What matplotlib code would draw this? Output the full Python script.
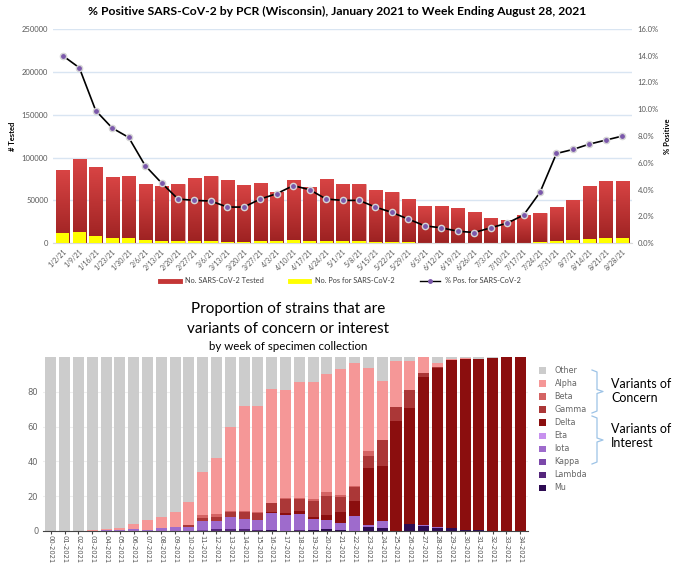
import numpy as np
import matplotlib
matplotlib.use('Agg')
import matplotlib.pyplot as plt
from matplotlib.lines import Line2D
from matplotlib.patches import Patch
from matplotlib.colors import LinearSegmentedColormap
from matplotlib.ticker import FuncFormatter

# ---------------- DATA: top chart (weekly PCR testing) ----------------
week_end = ['1/2/21', '1/9/21', '1/16/21', '1/23/21', '1/30/21', '2/6/21', '2/13/21',
            '2/20/21', '2/27/21', '3/6/21', '3/13/21', '3/20/21', '3/27/21', '4/3/21',
            '4/10/21', '4/17/21', '4/24/21', '5/1/21', '5/8/21', '5/15/21', '5/22/21',
            '5/29/21', '6/5/21', '6/12/21', '6/19/21', '6/26/21', '7/3/21', '7/10/21',
            '7/17/21', '7/24/21', '7/31/21', '8/7/21', '8/14/21', '8/21/21', '8/28/21']
tested = [85000, 98700, 88900, 76800, 78000, 68600, 66700, 69400, 75700, 78800,
          73700, 67900, 69800, 59700, 73300, 65900, 74900, 69400, 69000, 61600,
          59700, 51900, 42900, 43300, 41300, 37000, 29600, 26900, 33500, 35100,
          42100, 50700, 66700, 72900, 72500]
positives = [11900, 12900, 8800, 6600, 6200, 4000, 3000, 2300, 2400, 2500,
             2000, 1800, 2300, 2200, 3200, 2600, 2500, 2200, 2200, 1700,
             1400, 900, 560, 500, 370, 300, 340, 400, 700, 1330,
             2800, 3500, 4900, 5600, 5800]
pct_pos = [14.0, 13.1, 9.9, 8.6, 7.9, 5.8, 4.5, 3.3, 3.2, 3.15,
           2.7, 2.7, 3.3, 3.7, 4.3, 4.0, 3.3, 3.2, 3.2, 2.7,
           2.3, 1.8, 1.3, 1.15, 0.9, 0.8, 1.15, 1.5, 2.1, 3.8,
           6.7, 7.0, 7.4, 7.7, 8.0]

# ---------------- DATA: bottom chart (variant proportions, %) ----------------
weeks = ['%02d-2021' % k for k in range(35)]
other = [100, 99.9, 99.8, 99.4, 98.9, 98.1, 95.8, 93.7, 92.0, 89.3, 83.1, 66.3,
         58.0, 40.0, 28.0, 28.0, 18.4, 19.2, 14.2, 14.4, 9.6, 7.0, 3.6, 6.2,
         13.9, 2.1, 2.5, 0.1, 3.3, 1.3, 0.8, 1.1, 0.7, 0, 0]
alpha = [0, 0.1, 0.2, 0.6, 0.8, 1.2, 3.0, 5.7, 6.3, 8.2, 13.4, 24.6, 32.3, 48.6,
         60.5, 60.9, 65.4, 61.7, 66.8, 67.4, 68.2, 72.3, 70.8, 47.9, 33.9, 26.8,
         16.5, 9.4, 2.3, 0.7, 0.3, 0, 0, 0, 0]
beta = [0] * 11 + [1.8, 1.5, 0.6, 0.8, 0.8, 0.4, 0.6, 0.5, 0.8, 2.1, 1.2, 0.5,
                   2.7] + [0] * 11
gamma = [0, 0, 0, 0, 0, 0, 0, 0, 0.2, 0.4, 1.0, 1.4, 2.3, 2.9, 3.6, 4.2, 5.0,
         8.0, 7.2, 9.2, 11.1, 8.6, 7.7, 6.9, 14.9, 7.7, 10.5, 1.9, 1.0,
         0, 0, 0, 0, 0, 0]
delta = [0] * 16 + [0.6, 1.3, 1.3, 1.3, 2.7, 6.1, 8.8, 32.8, 31.6, 63.4, 66.5,
                    85.2, 90.9, 96.5, 98.4, 98.6, 99.1, 100, 100]
eta = [0] * 35
iota = [0, 0, 0, 0, 0.3, 0.7, 1.2, 0.6, 1.5, 2.1, 2.5, 5.6, 4.9, 6.9, 6.1, 5.8,
        9.7, 9.2, 9.6, 6.4, 5.2, 4.5, 8.6, 1.0, 4.2, 0, 0, 0.7, 0.5,
        0, 0, 0, 0, 0, 0]
kappa = [0] * 11 + [0.3] + [0] * 23
lambda_ = [0] * 12 + [1.0, 1.0, 1.0, 0.3, 0, 0, 0.4] + [0] * 16
mu = [0] * 16 + [0.5, 0, 0, 0.5, 1.1, 0.3, 0, 2.5, 1.5, 0, 4.0, 2.7, 2.0, 1.5,
                 0.5, 0.3, 0.2, 0, 0]

variant_names = ['Mu', 'Lambda', 'Kappa', 'Iota', 'Eta', 'Delta', 'Gamma', 'Beta', 'Alpha', 'Other']
variant_vals = [mu, lambda_, kappa, iota, eta, delta, gamma, beta, alpha, other]
variant_cols = ['#2d0b52', '#55267c', '#7b48aa', '#9e6bcc', '#c791ee',
                '#8b0e0e', '#ab3737', '#d46464', '#f59797', '#cccccc']

plt.rcParams['font.family'] = ['Lato', 'DejaVu Sans']

fig = plt.figure(figsize=(6.75, 5.67), dpi=100)

########## TOP CHART #############
ax1 = fig.add_axes([0.0785, 0.571, 0.858, 0.378])
x = np.arange(len(week_end))
bw = 0.8
red_cmap = LinearSegmentedColormap.from_list('redgrad', ['#9c2121', '#d84444'])
grad = np.linspace(0, 1, 100).reshape(-1, 1)
bars = ax1.bar(x, tested, width=bw, color='#c43636', edgecolor='#e8b0b0', lw=0.4, zorder=2)
for b in bars:
    im = ax1.imshow(grad, extent=[b.get_x(), b.get_x() + bw, 0, b.get_height()],
                    origin='lower', aspect='auto', cmap=red_cmap, zorder=2.1)
    im.set_clip_path(b)
ax1.bar(x, positives, width=bw, color='#ffff00', zorder=3)
ax1.set_xlim(-0.6, len(x) - 0.4)
ax1.set_ylim(0, 250000)
ax1.set_yticks(np.arange(0, 250001, 50000))
ax1.grid(axis='y', color='#d9e5f2', lw=1, zorder=0)
ax1.set_axisbelow(True)
for s in ax1.spines.values():
    s.set_visible(False)
ax1.spines['bottom'].set_visible(True)
ax1.spines['bottom'].set_color('#d9d9d9')
ax1.tick_params(axis='both', length=0, labelsize=5.5, colors='#595959')
ax1.set_xticks(x)
ax1.set_xticklabels(week_end, rotation=45, ha='right', rotation_mode='anchor', fontsize=5)
ax1.set_ylabel('# Tested', fontsize=5.5, fontweight='bold', labelpad=4)

ax2 = ax1.twinx()
ax2.plot(x, pct_pos, color='black', lw=1.2, marker='o', markersize=4.5,
         markerfacecolor='#7b58ab', markeredgecolor='#d5d5d5', markeredgewidth=1, zorder=5)
ax2.set_ylim(0, 16)
ax2.set_yticks(np.arange(0, 16.1, 2))
ax2.yaxis.set_major_formatter(FuncFormatter(lambda v, p: '%.1f%%' % v))
for s in ax2.spines.values():
    s.set_visible(False)
ax2.tick_params(axis='y', length=0, labelsize=5.5, colors='#595959', pad=4)
ax2.set_ylabel('% Positive', fontsize=5.5, fontweight='bold', labelpad=4)

fig.text(0.5, 0.979, '% Positive SARS-CoV-2 by PCR (Wisconsin), January 2021 to Week Ending August 28, 2021',
         ha='center', va='center', fontsize=8.7, fontweight='bold')

top_handles = [Line2D([], [], color='#c43636', lw=3.5),
               Line2D([], [], color='#ffff00', lw=3.5),
               Line2D([], [], color='black', lw=1, marker='o', markersize=2.5,
                      markerfacecolor='#7b58ab', markeredgecolor='#7b58ab')]
fig.legend(top_handles, ['No. SARS-CoV-2 Tested', 'No. Pos for SARS-CoV-2', '% Pos. for SARS-CoV-2'],
           loc='center', bbox_to_anchor=(0.505, 1 - 281 / 567), ncol=3, frameon=False,
           fontsize=5.3, handlelength=2.6, columnspacing=3.5, labelcolor='#404040')

########## BOTTOM CHART #############
ax3 = fig.add_axes([0.064, 0.0635, 0.718, 0.307])
xb = np.arange(len(weeks))
bottom = np.zeros(len(weeks))
handles = {}
for name, vals, col in zip(variant_names, variant_vals, variant_cols):
    vals = np.array(vals, dtype=float)
    ax3.bar(xb, vals, bottom=bottom, width=0.8, color=col, lw=0, zorder=2)
    handles[name] = Patch(facecolor=col)
    bottom += vals
ax3.set_xlim(-0.55, len(weeks) - 0.45)
ax3.set_ylim(0, 100)
ax3.set_yticks([0, 20, 40, 60, 80])
ax3.grid(axis='y', color='#eeeeee', lw=0.8, zorder=0)
for s in ax3.spines.values():
    s.set_visible(False)
ax3.spines['bottom'].set_visible(True)
ax3.spines['bottom'].set_color('#444444')
ax3.set_xticks(xb)
ax3.set_xticklabels(weeks, rotation=-90, fontsize=4.9, family='DejaVu Sans', color='#555555')
ax3.tick_params(axis='x', length=2, color='#444444', pad=1)
ax3.tick_params(axis='y', length=0, labelsize=6, labelcolor='#666666')
for t in ax3.get_yticklabels():
    t.set_family('DejaVu Sans')

fig.text(0.427, 1 - 309 / 567, 'Proportion of strains that are', ha='center', va='center', fontsize=11)
fig.text(0.427, 1 - 329 / 567, 'variants of concern or interest', ha='center', va='center', fontsize=11)
fig.text(0.427, 1 - 346 / 567, 'by week of specimen collection', ha='center', va='center', fontsize=8.3)

legend_order = ['Other', 'Alpha', 'Beta', 'Gamma', 'Delta', 'Eta', 'Iota', 'Kappa', 'Lambda', 'Mu']
fig.legend([handles[n] for n in legend_order], legend_order, loc='upper left',
           bbox_to_anchor=(532 / 675, 1 - 359 / 567), frameon=False,
           handlelength=0.8, handleheight=0.8, labelspacing=0.5, handletextpad=1.1,
           labelcolor='#666666', prop={'family': 'DejaVu Sans', 'size': 5.8})

# braces grouping the legend entries
brace_col = '#9dc3e6'
for y0, y1 in [(370, 413), (416, 464)]:
    ym = (y0 + y1) / 2
    xs = np.array([592, 597, 597, 603, 597, 597, 592]) / 675
    ys = 1 - np.array([y0, y0 + 2, ym - 2, ym, ym + 2, y1 - 2, y1]) / 567
    fig.add_artist(Line2D(xs, ys, color=brace_col, lw=0.9))
fig.text(611 / 675, 1 - 391 / 567, 'Variants of\nConcern', ha='left', va='center',
         fontsize=9, linespacing=1.25)
fig.text(611 / 675, 1 - 436 / 567, 'Variants of\nInterest', ha='left', va='center',
         fontsize=9, linespacing=1.25)

fig.savefig('out.png', dpi=100)
